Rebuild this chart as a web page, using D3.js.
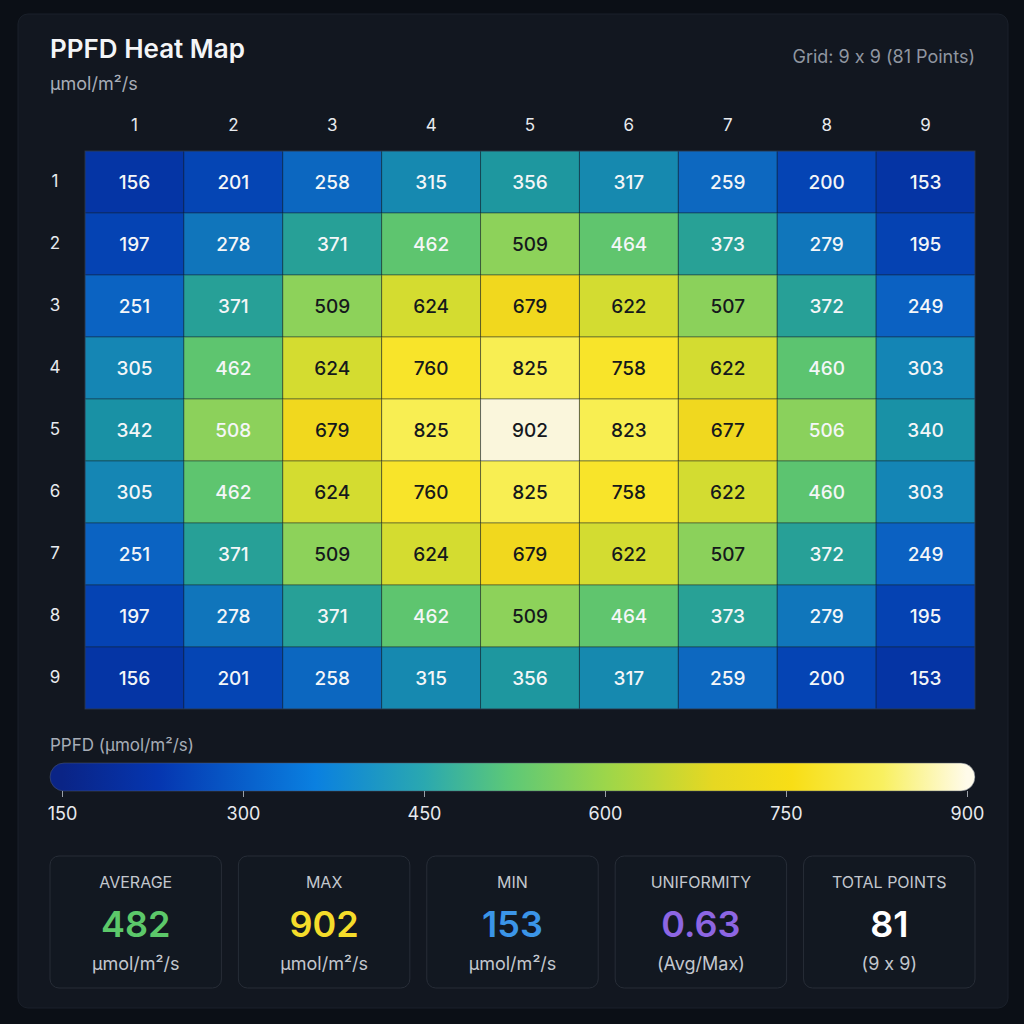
<!DOCTYPE html>
<html>
<head>
<meta charset="utf-8">
<script src="https://cdn.jsdelivr.net/npm/d3@7"></script>
<style>
  html, body { margin: 0; padding: 0; background: #0b0f16; }
  svg { display: block; font-family: Inter, 'Noto Sans', sans-serif; font-feature-settings: 'calt' 0; }
</style>
</head>
<body>
<div id="chart"></div>
<script>
const columns = ['1', '2', '3', '4', '5', '6', '7', '8', '9']
const rows = ['1', '2', '3', '4', '5', '6', '7', '8', '9']

const values = [
  [156, 201, 258, 315, 356, 317, 259, 200, 153],
  [197, 278, 371, 462, 509, 464, 373, 279, 195],
  [251, 371, 509, 624, 679, 622, 507, 372, 249],
  [305, 462, 624, 760, 825, 758, 622, 460, 303],
  [342, 508, 679, 825, 902, 823, 677, 506, 340],
  [305, 462, 624, 760, 825, 758, 622, 460, 303],
  [251, 371, 509, 624, 679, 622, 507, 372, 249],
  [197, 278, 371, 462, 509, 464, 373, 279, 195],
  [156, 201, 258, 315, 356, 317, 259, 200, 153],
]

const legendTicks = [150, 300, 450, 600, 750, 900]

const statLabels = ['AVERAGE', 'MAX', 'MIN', 'UNIFORMITY', 'TOTAL POINTS']
const statValues = ['482', '902', '153', '0.63', '81']
const statUnits = ['µmol/m²/s', 'µmol/m²/s', 'µmol/m²/s', '(Avg/Max)', '(9 x 9)']
const statColors = ['#5cc86a', '#f5dc2a', '#3b95e8', '#8d66e3', '#ffffff']

const render = () => {
  const width = 1024
  const height = 1024
  const grid = { left: 85, right: 975, top: 151, bottom: 709 }

  // cell colours
  const cellStops = [
    [150, '#0533a3'],
    [200, '#0544b4'],
    [250, '#0b62c2'],
    [300, '#1484b6'],
    [350, '#1a94a2'],
    [400, '#38b088'],
    [460, '#5cc470'],
    [510, '#8ed25a'],
    [570, '#b8d840'],
    [624, '#d4dc30'],
    [680, '#f2d81e'],
    [760, '#f8e42a'],
    [825, '#f8ee52'],
    [900, '#faf6dc'],
  ]
  const color = d3
    .scaleLinear()
    .domain(cellStops.map((d) => d[0]))
    .range(cellStops.map((d) => d[1]))
    .clamp(true)

  // legend bar colours
  const legendStops = [
    [150, '#0a2486'],
    [230, '#0536b0'],
    [360, '#0a80e0'],
    [450, '#2aa8b0'],
    [520, '#5cc878'],
    [600, '#9cd64a'],
    [690, '#e6d822'],
    [755, '#f8de16'],
    [830, '#f8f060'],
    [900, '#fffbea'],
  ]

  const svg = d3
    .select('#chart')
    .append('svg')
    .attr('width', width)
    .attr('height', height)

  const defs = svg.append('defs')

  // Card
  svg
    .append('rect')
    .attr('x', 18)
    .attr('y', 14)
    .attr('width', 990)
    .attr('height', 994)
    .attr('rx', 10)
    .attr('fill', '#121720')
    .attr('stroke', '#1a202a')

  // Header
  svg
    .append('text')
    .attr('x', 50)
    .attr('y', 58)
    .attr('fill', '#f4f5f7')
    .attr('font-size', 26)
    .attr('font-weight', 600)
    .text('PPFD Heat Map')

  svg
    .append('text')
    .attr('x', 50)
    .attr('y', 90)
    .attr('fill', '#a7adb7')
    .attr('font-size', 18)
    .text('µmol/m²/s')

  svg
    .append('text')
    .attr('x', 975)
    .attr('y', 63)
    .attr('text-anchor', 'end')
    .attr('fill', '#9096a0')
    .attr('font-size', 18)
    .text(`Grid: ${columns.length} x ${rows.length} (${columns.length * rows.length} Points)`)

  // Scales
  const xScale = d3
    .scaleBand()
    .domain(columns)
    .range([grid.left, grid.right])

  const yScale = d3
    .scaleBand()
    .domain(rows)
    .range([grid.top, grid.bottom])

  // Column axis
  const xAxis = svg
    .append('g')
    .attr('transform', `translate(0, ${grid.top - 20})`)
    .call(d3.axisTop(xScale).tickSize(0).tickPadding(0))
  xAxis.select('.domain').remove()
  xAxis
    .selectAll('text')
    .attr('fill', '#e8eaee')
    .attr('font-size', 17)
    .attr('font-family', 'Inter, sans-serif')

  // Row axis
  const yAxis = svg
    .append('g')
    .attr('transform', `translate(${grid.left - 30}, 0)`)
    .call(d3.axisLeft(yScale).tickSize(0).tickPadding(0))
  yAxis.select('.domain').remove()
  yAxis
    .selectAll('text')
    .attr('fill', '#e8eaee')
    .attr('font-size', 17)
    .attr('font-family', 'Inter, sans-serif')
    .attr('text-anchor', 'middle')

  // Cells
  const cells = []
  values.forEach((row, i) => {
    row.forEach((v, j) => {
      cells.push({ row: rows[i], col: columns[j], value: v })
    })
  })

  const cell = svg
    .append('g')
    .selectAll('g')
    .data(cells)
    .enter()
    .append('g')

  cell
    .append('rect')
    .attr('x', (d) => xScale(d.col))
    .attr('y', (d) => yScale(d.row))
    .attr('width', xScale.bandwidth())
    .attr('height', yScale.bandwidth())
    .attr('fill', (d) => color(d.value))
    .attr('stroke', 'rgba(20,30,40,0.45)')
    .attr('stroke-width', 1)

  cell
    .append('text')
    .attr('x', (d) => xScale(d.col) + xScale.bandwidth() / 2)
    .attr('y', (d) => yScale(d.row) + yScale.bandwidth() / 2)
    .attr('dy', '0.36em')
    .attr('text-anchor', 'middle')
    .attr('font-size', 19)
    .attr('font-weight', 500)
    .attr('fill', (d) => (d.value >= 507 && d.value !== 508 ? '#15181c' : '#f4f6f8'))
    .text((d) => d.value)

  svg
    .append('rect')
    .attr('x', grid.left)
    .attr('y', grid.top)
    .attr('width', grid.right - grid.left)
    .attr('height', grid.bottom - grid.top)
    .attr('fill', 'none')
    .attr('stroke', 'rgba(60,70,90,0.6)')

  // Legend
  const legendScale = d3
    .scaleLinear()
    .domain([150, 900])
    .range([62, 967])

  svg
    .append('text')
    .attr('x', 50)
    .attr('y', 751)
    .attr('fill', '#a7adb7')
    .attr('font-size', 17)
    .text('PPFD (µmol/m²/s)')

  const grad = defs
    .append('linearGradient')
    .attr('id', 'legend-grad')
    .attr('gradientUnits', 'userSpaceOnUse')
    .attr('x1', legendScale(150))
    .attr('x2', legendScale(900))
    .attr('y1', 0)
    .attr('y2', 0)

  grad
    .selectAll('stop')
    .data(legendStops)
    .enter()
    .append('stop')
    .attr('offset', (d) => (d[0] - 150) / 750)
    .attr('stop-color', (d) => d[1])

  svg
    .append('rect')
    .attr('x', 50)
    .attr('y', 763)
    .attr('width', 925)
    .attr('height', 28)
    .attr('rx', 14)
    .attr('fill', 'url(#legend-grad)')
    .attr('stroke', 'rgba(80,90,110,0.5)')

  const legendAxis = svg
    .append('g')
    .attr('transform', 'translate(0, 791)')
    .call(d3.axisBottom(legendScale).tickValues(legendTicks).tickSize(6).tickPadding(10))
  legendAxis.select('.domain').remove()
  legendAxis.selectAll('line').attr('stroke', '#9aa0a8')
  legendAxis
    .selectAll('text')
    .attr('fill', '#e8eaee')
    .attr('font-size', 18)
    .attr('font-family', 'Inter, sans-serif')

  // Stat cards
  const statX = d3
    .scaleBand()
    .domain(statLabels)
    .range([50, 975])
    .paddingInner(0.09)

  const stat = svg
    .append('g')
    .selectAll('g')
    .data(statLabels)
    .enter()
    .append('g')
    .attr('transform', (d) => `translate(${statX(d)}, 856)`)

  stat
    .append('rect')
    .attr('width', statX.bandwidth())
    .attr('height', 132)
    .attr('rx', 9)
    .attr('fill', '#121821')
    .attr('stroke', '#272d37')

  stat
    .append('text')
    .attr('x', statX.bandwidth() / 2)
    .attr('y', 32)
    .attr('text-anchor', 'middle')
    .attr('fill', '#c3c7ce')
    .attr('font-size', 16)
    .text((d) => d)

  stat
    .append('text')
    .attr('x', statX.bandwidth() / 2)
    .attr('y', 81)
    .attr('text-anchor', 'middle')
    .attr('fill', (d, i) => statColors[i])
    .attr('font-size', 36)
    .attr('font-weight', 600)
    .text((d, i) => statValues[i])

  stat
    .append('text')
    .attr('x', statX.bandwidth() / 2)
    .attr('y', 114)
    .attr('text-anchor', 'middle')
    .attr('fill', '#c3c7ce')
    .attr('font-size', 18)
    .text((d, i) => statUnits[i])
}

render()
</script>
</body>
</html>
